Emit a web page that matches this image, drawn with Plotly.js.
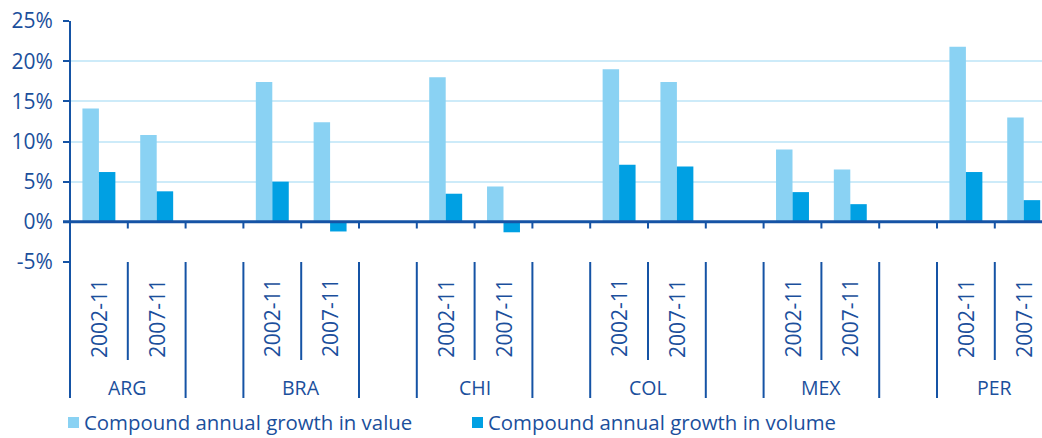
<!DOCTYPE html>
<html>
<head>
<meta charset="utf-8">
<script src="https://cdn.plot.ly/plotly-3.0.1.min.js"></script>
<style>html,body{margin:0;padding:0;background:#fff;}#chart{width:1042px;height:438px;}</style>
</head>
<body>
<div id="chart"></div>
<script>
// ---- data ----
var countries = ['ARG', 'BRA', 'CHI', 'COL', 'MEX', 'PER'];
var periods = ['2002-11', '2007-11'];
var valueGrowth  = [14.1, 10.8, 17.4, 12.4, 18.0, 4.4, 19.0, 17.4, 9.0, 6.5, 21.8, 13.0];
var volumeGrowth = [6.2, 3.8, 5.0, -1.2, 3.5, -1.3, 7.1, 6.9, 3.7, 2.2, 6.2, 2.7];
var seriesNames = ['Compound annual growth in value', 'Compound annual growth in volume'];
var yTicks = [-5, 0, 5, 10, 15, 20, 25];

// ---- layout geometry ----
var W = 1042, H = 438;
var plotL = 70, plotR = 1042, plotT = 21, plotB = 262;
var slotPx = 57.8;
var slotsPerCountry = 3;
var xMax = (plotR - plotL) / slotPx;
function py(px) { return (plotB - px) / (plotB - plotT); }
function pxX(px) { return (px - plotL) / (plotR - plotL); }

var textColor = '#1B4F9C';
var axisColor = '#1553A5';
var gridColor = '#CDEBF9';
var lightBlue = '#8AD2F3';
var darkBlue = '#00A0E3';
var fontFam = '"Open Sans", "DejaVu Sans", sans-serif';

// slot positions (category layout)
var xs = [], slotLabels = [];
countries.forEach(function (c, ci) {
  periods.forEach(function (p, pi) {
    xs.push(ci * slotsPerCountry + pi + 0.5);
    slotLabels.push(p);
  });
});

var traces = [
  { type: 'bar', x: xs, y: valueGrowth, name: seriesNames[0],
    marker: { color: lightBlue, line: { width: 0 } }, hoverinfo: 'y' },
  { type: 'bar', x: xs, y: volumeGrowth, name: seriesNames[1],
    marker: { color: darkBlue, line: { width: 0 } }, hoverinfo: 'y' }
];

var shapes = [];
var annotations = [];

// zero line (above bars)
shapes.push({ type: 'line', xref: 'paper', yref: 'y', x0: pxX(63), x1: 1, y0: 0, y1: 0,
  line: { color: axisColor, width: 3 }, layer: 'above' });
// left axis line extending below
shapes.push({ type: 'line', xref: 'paper', yref: 'paper', x0: 0, x1: 0, y0: 1, y1: py(398),
  line: { color: axisColor, width: 2 }, layer: 'above' });

var nSlots = countries.length * slotsPerCountry - 1;
for (var k = 1; k <= nSlots; k++) {
  // small ticks on zero line
  shapes.push({ type: 'line', xref: 'x', yref: 'paper', x0: k, x1: k, y0: py(222), y1: py(228.5),
    line: { color: axisColor, width: 2 }, layer: 'above' });
  var isSub = (k % slotsPerCountry) === 1;
  shapes.push({ type: 'line', xref: 'x', yref: 'paper', x0: k, x1: k, y0: 0, y1: isSub ? py(360) : py(398),
    line: { color: axisColor, width: 2 }, layer: 'above' });
}

// period labels
xs.forEach(function (x, i) {
  annotations.push({ xref: 'x', yref: 'paper', x: x, y: py(318), text: slotLabels[i],
    showarrow: false, textangle: -90, xanchor: 'center', yanchor: 'middle',
    font: { family: fontFam, size: 21, color: textColor } });
});
// country labels
countries.forEach(function (c, ci) {
  annotations.push({ xref: 'x', yref: 'paper', x: ci * slotsPerCountry + 1, y: py(387), text: c,
    showarrow: false, xanchor: 'center', yanchor: 'middle',
    font: { family: fontFam, size: 19.5, color: textColor } });
});

// custom legend
var legSq = [[68, 79], [472, 483]];
var legText = [83, 487];
[lightBlue, darkBlue].forEach(function (col, i) {
  shapes.push({ type: 'rect', xref: 'paper', yref: 'paper', x0: pxX(legSq[i][0]), x1: pxX(legSq[i][1]),
    y0: py(428), y1: py(417), fillcolor: col, line: { width: 0 } });
  annotations.push({ xref: 'paper', yref: 'paper', x: pxX(legText[i]), y: py(422.5), text: seriesNames[i],
    showarrow: false, xanchor: 'left', yanchor: 'middle', borderpad: 0,
    font: { family: fontFam, size: 20.4, color: textColor } });
});

var layout = {
  width: W, height: H,
  margin: { l: plotL, r: W - plotR, t: plotT, b: H - plotB, pad: 0 },
  paper_bgcolor: '#fff', plot_bgcolor: '#fff',
  showlegend: false,
  barmode: 'group', bargap: 0.43, bargroupgap: 0,
  font: { family: fontFam, color: textColor },
  xaxis: { range: [0, xMax], showgrid: false, zeroline: false, showticklabels: false,
    ticks: '', showline: false, fixedrange: true },
  yaxis: { range: [-5, 25], tickvals: yTicks, ticktext: yTicks.map(function (v) { return v + '%'; }),
    showgrid: true, gridcolor: gridColor, gridwidth: 2, zeroline: false,
    showline: false, ticks: 'outside', ticklen: 6, tickwidth: 2, tickcolor: axisColor,
    ticklabelstandoff: 6,
    tickfont: { family: fontFam, size: 21, color: textColor }, fixedrange: true },
  shapes: shapes,
  annotations: annotations
};

Plotly.newPlot('chart', traces, layout, { displayModeBar: false, staticPlot: true });
</script>
</body>
</html>
